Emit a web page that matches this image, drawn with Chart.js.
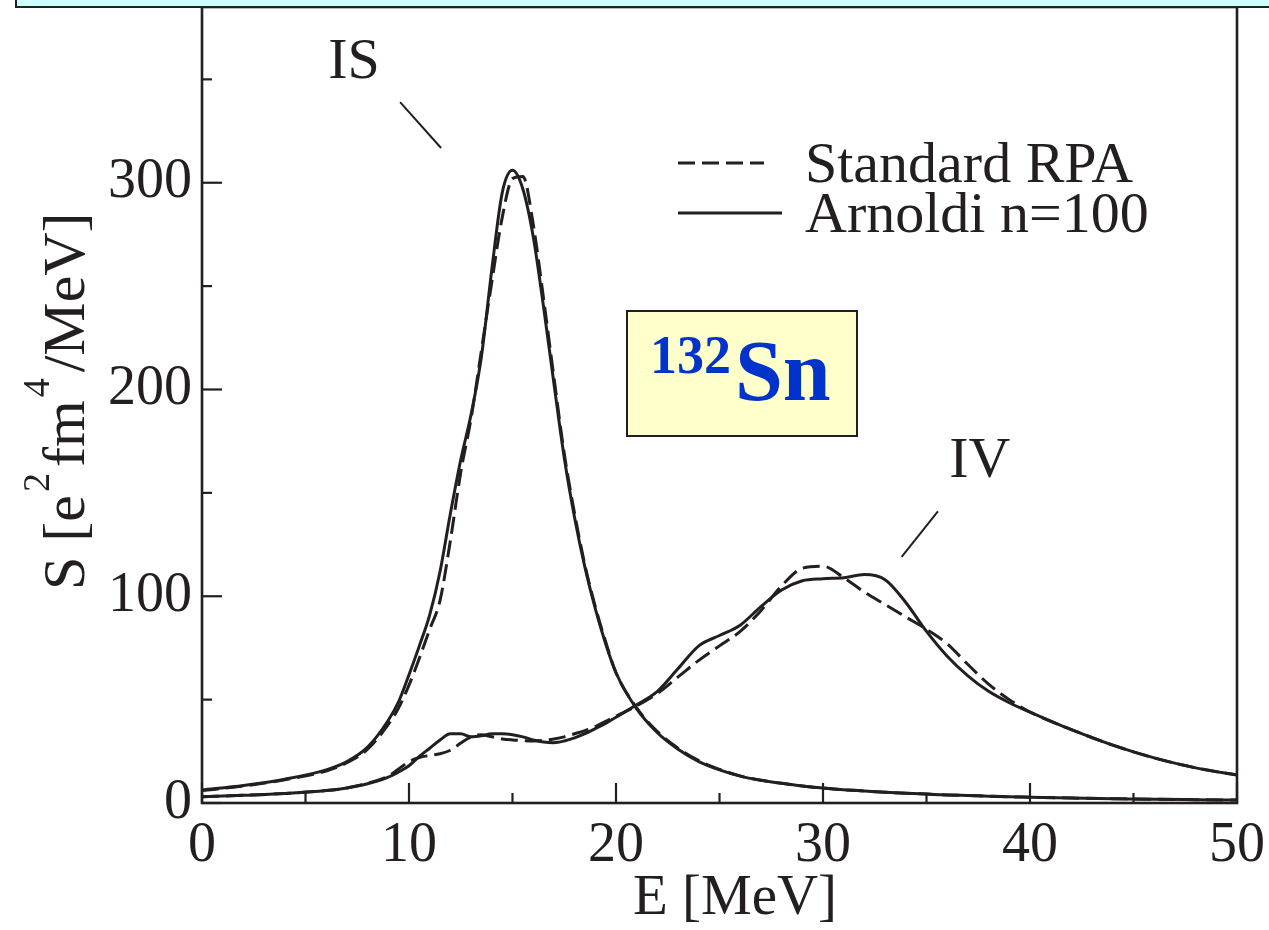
<!DOCTYPE html>
<html>
<head>
<meta charset="utf-8">
<title>132Sn quadrupole strength</title>
<script src="https://cdn.jsdelivr.net/npm/chart.js@4.4.1/dist/chart.umd.min.js"></script>
<style>
  html, body { margin: 0; padding: 0; background: #fff; }
</style>
</head>
<body>
<canvas id="strength" width="1269" height="930"></canvas>
<script>
// energy grid (MeV) shared by all four curves
const energies = [0, 2, 4, 6, 7, 8, 9, 9.5, 10, 10.5, 11, 11.5, 12, 12.5, 13, 13.5, 14, 14.5, 15, 15.5,
                  16, 16.5, 17, 17.5, 18, 18.5, 19, 19.5, 20, 21, 22, 23, 24, 25, 26, 27, 28, 29, 30,
                  31, 32, 33, 34, 35, 36, 37, 38, 39, 40, 42, 44, 46, 48, 50];

// isoscalar response, S in e^2 fm^4 / MeV
const isArnoldi = [6.3, 8.5, 11.5, 16, 20, 27, 40, 49, 62, 76, 91, 112, 140, 166, 188, 216, 258, 295, 306, 297,
                   274, 240, 203, 167, 138, 114, 94, 77, 63, 45.5, 34, 26, 20, 16, 13, 11, 9.5, 8.2, 7.2,
                   6.4, 5.8, 5.2, 4.7, 4.3, 3.9, 3.6, 3.3, 3.0, 2.8, 2.4, 2.1, 1.8, 1.6, 1.4];
const isRpa = [6, 8.2, 11.2, 15.5, 19.5, 26, 38, 46, 57, 70, 84, 98, 127, 160, 186, 219, 252, 283, 302, 303,
               280, 244, 206, 169, 140, 115, 95, 78, 63, 46, 34.5, 26.5, 20.5, 16.3, 13.1, 11, 9.5, 8.2, 7.2,
               6.4, 5.8, 5.2, 4.7, 4.3, 3.9, 3.6, 3.3, 3.0, 2.8, 2.4, 2.1, 1.8, 1.6, 1.4];

// isovector response
const ivArnoldi = [3, 3.7, 4.6, 6, 7.3, 9.3, 12.5, 15, 18, 22.5, 26.5, 30.5, 33.5, 33.5, 32, 32.5, 33.5, 33.5, 33, 32,
                   30.5, 29.5, 29.2, 30, 31.5, 33.5, 36, 38.5, 41.5, 47.5, 54, 65, 76, 81, 86, 95, 103, 107.5, 108.5,
                   109, 110.5, 108, 97, 83, 71, 61.5, 54, 48.5, 44, 35.5, 28, 21.8, 17, 13.5];
const ivRpa = [3, 3.7, 4.6, 6, 7.3, 9.5, 13, 16.5, 20, 22, 23, 23.8, 25.5, 29, 32, 33, 32, 31, 30.5, 30.2,
               30, 30.3, 31, 32, 33.5, 35, 37, 39.5, 42, 47, 53, 61, 69, 76, 83, 93, 105, 113.5, 114.5,
               109, 102, 96, 90, 84, 77, 67, 57.5, 50, 44, 35.5, 28, 21.8, 17, 13.5];

const legendLabels = ['Standard RPA', 'Arnoldi n=100'];

const serif = '"Liberation Serif", "Times New Roman", serif';
const ink = '#231f20';
const dash = [17, 7];

const toPoints = values => values.map((v, i) => ({ x: energies[i], y: v }));

function curve(label, values, dashed) {
    return {
        label: label,
        data: toPoints(values),
        borderColor: ink,
        borderWidth: 3,
        borderDash: dashed ? dash : [],
        pointRadius: 0,
        fill: false,
        cubicInterpolationMode: 'monotone'
    };
}

function seg(ctx, x1, y1, x2, y2, w) {
    ctx.beginPath();
    ctx.lineWidth = w;
    ctx.moveTo(x1, y1);
    ctx.lineTo(x2, y2);
    ctx.stroke();
}

// frame, inward ticks, labels, legend and the boxes on top of the plot
const overlay = {
    id: 'overlay',
    afterDraw(chart) {
        const ctx = chart.ctx;
        const xs = chart.scales.x, ys = chart.scales.y;
        const a = chart.chartArea;
        ctx.save();
        ctx.strokeStyle = ink;
        ctx.fillStyle = ink;
        ctx.setLineDash([]);

        // frame
        ctx.lineWidth = 2.6;
        ctx.strokeRect(a.left, a.top, a.right - a.left, a.bottom - a.top);

        // ticks pointing into the plot
        xs.ticks.forEach(t => {
            const px = xs.getPixelForValue(t.value);
            const len = t.value % 10 === 0 ? 20 : 10;
            seg(ctx, px, a.bottom, px, a.bottom - len, 2.2);
        });
        ys.ticks.forEach(t => {
            const py = ys.getPixelForValue(t.value);
            const len = t.value % 100 === 0 ? 20 : 10;
            seg(ctx, a.left, py, a.left + len, py, 2.2);
        });

        // peak labels with pointers
        ctx.font = '58px ' + serif;
        ctx.textAlign = 'left';
        ctx.textBaseline = 'alphabetic';
        ctx.fillText('IS', xs.getPixelForValue(6.1), ys.getPixelForValue(350.5));
        seg(ctx, xs.getPixelForValue(9.57), ys.getPixelForValue(339), xs.getPixelForValue(11.55), ys.getPixelForValue(316.8), 2);
        ctx.fillText('IV', xs.getPixelForValue(36.1), ys.getPixelForValue(157.7));
        seg(ctx, xs.getPixelForValue(33.8), ys.getPixelForValue(119), xs.getPixelForValue(35.55), ys.getPixelForValue(141), 2);

        // legend
        ctx.font = '58px ' + serif;
        legendLabels.forEach((label, i) => {
            const ds = chart.data.datasets.find(d => d.label === label);
            const y = 163 + i * 50;
            ctx.setLineDash(ds.borderDash);
            seg(ctx, 678, y, i === 0 ? 764 : 782, y, 3);
            ctx.setLineDash([]);
            ctx.fillText(label, 805, y + 19);
        });

        // nucleus tag
        ctx.fillStyle = '#ffffcc';
        ctx.fillRect(627, 311, 230, 125);
        ctx.lineWidth = 2;
        ctx.strokeRect(627, 311, 230, 125);
        ctx.fillStyle = '#0033cc';
        ctx.font = 'bold 54px ' + serif;
        ctx.fillText('132', 650, 373);
        ctx.font = 'bold 86px ' + serif;
        ctx.fillText('Sn', 735, 400);

        // axis titles
        ctx.fillStyle = ink;
        ctx.font = '57px ' + serif;
        ctx.textAlign = 'center';
        ctx.fillText('E [MeV]', 735, 914);

        ctx.save();
        ctx.translate(84, 590);
        ctx.rotate(-Math.PI / 2);
        ctx.textAlign = 'left';
        const parts = [['S [e', false], ['2', true], ['fm', false], ['4', true], ['/MeV]', false]];
        let x = 0;
        parts.forEach(([txt, sup]) => {
            ctx.font = (sup ? '38px ' : '60px ') + serif;
            ctx.fillText(txt, x + (sup ? 3 : 0), sup ? -35 : 0);
            x += ctx.measureText(txt).width + (sup ? 9 : 0);
        });
        ctx.restore();

        // strip across the top
        ctx.fillStyle = '#ccffff';
        ctx.fillRect(16, -4, 1260, 10);
        ctx.strokeStyle = '#222';
        ctx.lineWidth = 2;
        ctx.strokeRect(16, -4, 1260, 11);

        ctx.restore();
    }
};

new Chart(document.getElementById('strength').getContext('2d'), {
    type: 'line',
    data: {
        datasets: [
            curve('Standard RPA', isRpa, true),
            curve('Arnoldi n=100', isArnoldi, false),
            curve('Standard RPA', ivRpa, true),
            curve('Arnoldi n=100', ivArnoldi, false)
        ]
    },
    options: {
        responsive: false,
        animation: false,
        layout: { padding: { top: 7, right: 32, left: 0, bottom: 0 } },
        plugins: { legend: { display: false }, tooltip: { enabled: false } },
        scales: {
            x: {
                type: 'linear',
                min: 0,
                max: 50,
                grid: { display: false, drawTicks: false },
                border: { display: false },
                ticks: {
                    stepSize: 5,
                    padding: 10,
                    color: ink,
                    font: { family: serif, size: 56 },
                    callback: v => (v % 10 === 0 ? v : '')
                },
                afterFit: s => {
                    s.height = 127;
                    s.paddingLeft = 0;
                    s.paddingRight = 0;
                }
            },
            y: {
                type: 'linear',
                min: 0,
                max: 385,
                grid: { display: false, drawTicks: false },
                border: { display: false },
                ticks: {
                    stepSize: 50,
                    includeBounds: false,
                    padding: 10,
                    color: ink,
                    font: { family: serif, size: 56 },
                    callback: v => (v % 100 === 0 ? v : '')
                },
                afterFit: s => {
                    s.width = 202;
                    s.paddingTop = 0;
                    s.paddingBottom = 0;
                }
            }
        }
    },
    plugins: [overlay]
});
</script>
</body>
</html>
